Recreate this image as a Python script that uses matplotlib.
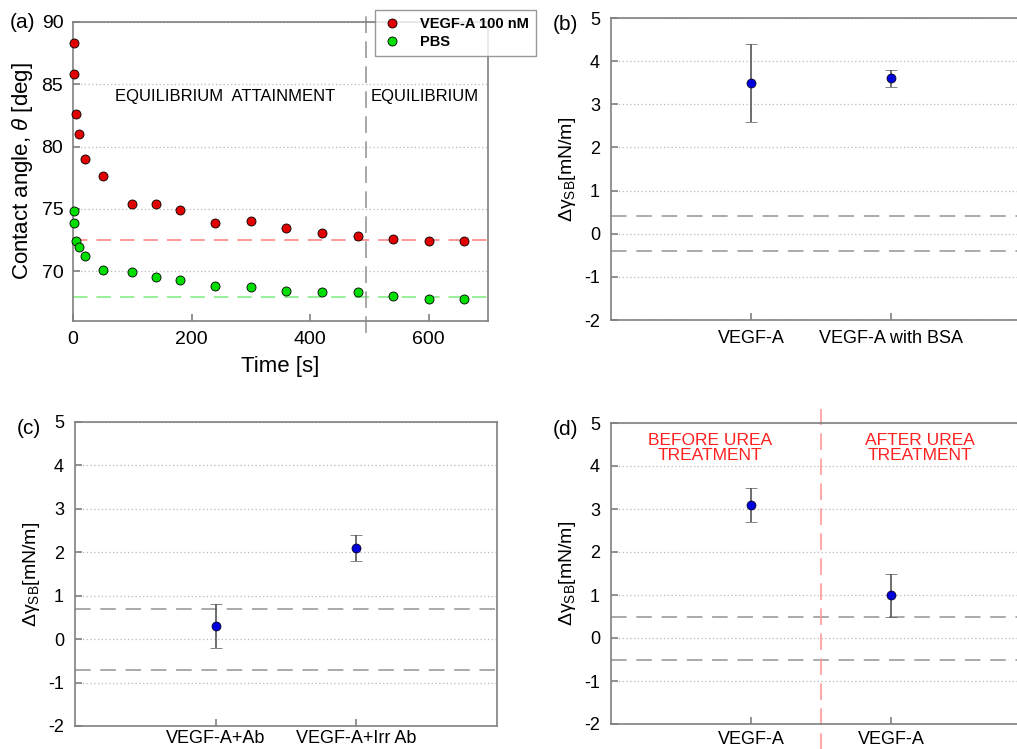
import matplotlib
matplotlib.use('Agg')
import matplotlib.pyplot as plt

plt.rcParams['font.family'] = ['Liberation Sans', 'DejaVu Sans']
plt.rcParams['mathtext.fontset'] = 'custom'
plt.rcParams['mathtext.rm'] = 'Liberation Sans'
plt.rcParams['mathtext.it'] = 'Liberation Sans:italic'
plt.rcParams['axes.unicode_minus'] = False

# ---- panel (a) data ----
time_s = [1, 2, 5, 10, 20, 50, 100, 140, 180, 240, 300, 360, 420, 480, 540, 600, 660]
angle_vegf = [88.3, 85.8, 82.6, 81.0, 79.0, 77.6, 75.4, 75.4, 74.9, 73.9, 74.0, 73.5, 73.1, 72.8, 72.6, 72.4, 72.4]
angle_pbs = [74.8, 73.9, 72.4, 71.9, 71.2, 70.1, 69.9, 69.5, 69.3, 68.8, 68.7, 68.4, 68.3, 68.3, 68.0, 67.8, 67.8]
eq_vegf = 72.5
eq_pbs = 67.9
t_split = 495

# ---- panels (b), (c), (d) data ----
cats_b = ['VEGF-A', 'VEGF-A with BSA']
val_b = [3.5, 3.6]
err_b = [0.9, 0.2]
band_b = 0.4

cats_c = ['VEGF-A+Ab', 'VEGF-A+Irr Ab']
val_c = [0.3, 2.1]
err_c = [0.5, 0.3]
band_c = 0.7

cats_d = ['VEGF-A', 'VEGF-A']
val_d = [3.1, 1.0]
err_d = [0.4, 0.5]
band_d = 0.5

spine_col = '#808080'
W, H = 1017, 749
fig = plt.figure(figsize=(W / 100, H / 100), dpi=100)


def px_axes(left, top, right, bottom):
    return fig.add_axes([left / W, 1 - bottom / H, (right - left) / W, (bottom - top) / H])


def style(ax):
    for s in ax.spines.values():
        s.set_color(spine_col)
        s.set_linewidth(1.2)
    ax.tick_params(direction='in', color=spine_col, labelsize=13, length=5, width=1.2,
                   top=False, right=False)
    ax.yaxis.grid(True, linestyle=(0, (1, 2)), color='#bbbbbb', linewidth=0.9)
    ax.set_axisbelow(True)


# ---- (a) ----
ax = px_axes(73, 22, 488, 321)
style(ax)
ax.set_xlim(0, 700)
ax.set_ylim(66, 90)
ax.set_xticks([0, 200, 400, 600])
ax.set_yticks([70, 75, 80, 85, 90])
ax.tick_params(axis='both', labelsize=14, pad=7)
ax.axhline(eq_vegf, color='#ff9090', linestyle=(0, (8, 5)), linewidth=1.3)
ax.axhline(eq_pbs, color='#90ee90', linestyle=(0, (8, 5)), linewidth=1.3)
ax.axvline(t_split, ymin=-0.04, ymax=1.04, clip_on=False, color='#999999',
           linestyle=(0, (10, 5)), linewidth=1.2)
h1, = ax.plot(time_s, angle_vegf, 'o', color='#e00000', mec='black', mew=0.6, ms=6.5,
              label='VEGF-A 100 nM', clip_on=False, zorder=5)
h2, = ax.plot(time_s, angle_pbs, 'o', color='#00dd00', mec='black', mew=0.6, ms=6.5,
              label='PBS', clip_on=False, zorder=5)
ax.text(257, 84.0, 'EQUILIBRIUM  ATTAINMENT', ha='center', va='center', fontsize=12)
ax.text(593, 84.0, 'EQUILIBRIUM', ha='center', va='center', fontsize=12)
ax.set_xlabel('Time [s]', fontsize=16, labelpad=6)
ax.set_ylabel('Contact angle, $\\theta$ [deg]', fontsize=16, labelpad=5)
leg = fig.legend(handles=[h1, h2], loc='upper left', bbox_to_anchor=(375 / W, 1 - 10 / H),
                 fontsize=10.5, frameon=True, fancybox=False, edgecolor=spine_col,
                 handletextpad=1.3, borderpad=0.5, labelspacing=0.25, handlelength=1.3,
                 borderaxespad=0)
leg.get_frame().set_linewidth(1.0)
for t in leg.get_texts():
    t.set_fontweight('bold')
fig.text(10 / W, 1 - 22 / H, '(a)', fontsize=15, va='center')


def delta_panel(ax, cats, vals, errs, band, label):
    style(ax)
    ax.set_xlim(0, 3)
    ax.set_ylim(-2, 5)
    ax.set_yticks(range(-2, 6))
    ax.set_xticks([1, 2])
    ax.set_xticklabels(cats, fontsize=13)
    ax.tick_params(axis='x', pad=7)
    ax.tick_params(axis='y', labelsize=13, pad=8)
    ax.axhline(band, color='#aaaaaa', linestyle=(0, (8, 5)), linewidth=1.4)
    ax.axhline(-band, color='#aaaaaa', linestyle=(0, (8, 5)), linewidth=1.4)
    ax.errorbar([1, 2], vals, yerr=errs, fmt='o', color='#0000dd', mec='black', mew=0.5,
                ms=6.5, ecolor='#555555', elinewidth=1.2, capsize=4, capthick=1.2, zorder=5)
    ax.set_ylabel('Δγ$_{\\mathrm{SB}}$[mN/m]', fontsize=14, labelpad=4)
    pos = ax.get_position()
    fig.text(pos.x0 - 58 / W, pos.y1 - 6 / H, label, fontsize=15, va='center')


axb = px_axes(611, 18, 1031, 320)
delta_panel(axb, cats_b, val_b, err_b, band_b, '(b)')

axc = px_axes(75, 422, 497, 726)
delta_panel(axc, cats_c, val_c, err_c, band_c, '(c)')
axc.tick_params(axis='x', pad=3)

axd = px_axes(611, 423, 1031, 724)
delta_panel(axd, cats_d, val_d, err_d, band_d, '(d)')
axd.tick_params(axis='x', pad=5)
axd.axvline(1.5, ymin=-0.2, ymax=1.047, clip_on=False, color='#ff9999',
            linestyle=(0, (10, 5)), linewidth=1.2)
axd.text(0.71, 4.42, 'BEFORE UREA\nTREATMENT', color='#ff2020', ha='center', va='center',
         fontsize=12.5, linespacing=1.0)
axd.text(2.21, 4.42, 'AFTER UREA\nTREATMENT', color='#ff2020', ha='center', va='center',
         fontsize=12.5, linespacing=1.0)

fig.savefig('out.png', dpi=100)
